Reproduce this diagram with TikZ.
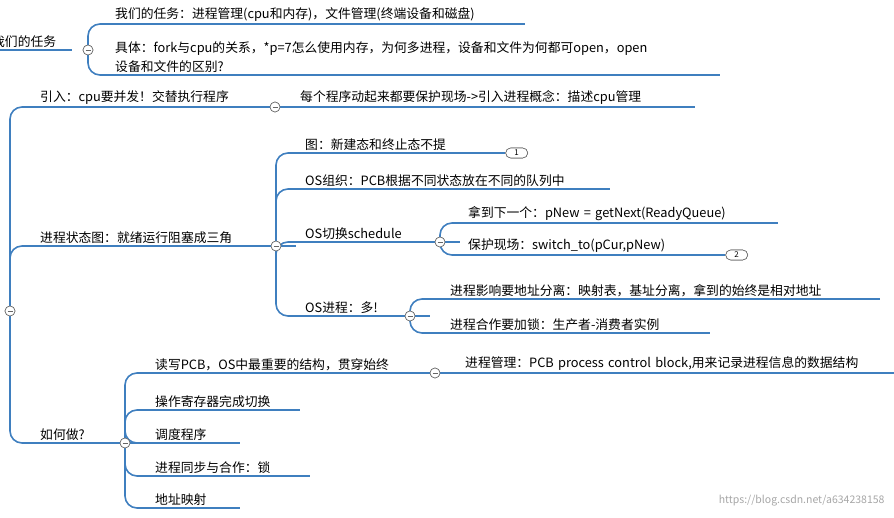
\documentclass[tikz,border=0pt]{standalone}
\usepackage{fontspec}
\setmainfont{Noto Sans CJK SC}
\usetikzlibrary{positioning}
\definecolor{mmblue}{HTML}{3F7FBF}
\tikzset{
  item/.style={anchor=south west, inner xsep=10pt, inner ysep=2pt, align=left,
    font=\fontsize{12.8pt}{19pt}\selectfont},
  uline/.style={draw=mmblue, line width=1.6pt},
  branch/.style={draw=mmblue, line width=1.6pt, rounded corners=12pt},
  fold/.style={circle, draw=gray!80!black, fill=white, line width=0.6pt,
    minimum size=10pt, inner sep=0pt,
    path picture={\draw[line width=0.6pt] ([xshift=-2.5pt]path picture bounding box.center) -- ([xshift=2.5pt]path picture bounding box.center);}},
  badge/.style={draw=gray!80!black, fill=white, rounded corners=5pt, line width=0.6pt,
    minimum width=22pt, minimum height=10pt, inner sep=0pt, font=\fontsize{8pt}{8pt}\selectfont}
}
\begin{document}
\begin{tikzpicture}[x=1pt,y=-1pt]
    \useasboundingbox (0,0) rectangle (894,518);
    % top (cut off)
    \node [item, text width=80pt, inner xsep=0pt] (task) at (-8,50) {我们的任务};%
    \node [fold] (ctask) at (88,50) {};%
    \node [item, text width=400pt] (task1) at (105,24)
    {我们的任务：进程管理(cpu和内存)，文件管理(终端设备和磁盘)};%
    \node [item, text width=595pt] (task2) at (105,75)
    {具体：fork与cpu的关系，*p=7怎么使用内存，为何多进程，设备和文件为何都可open，open\\设备和文件的区别?};%

    % root
    \node [fold] (root) at (10,311) {};%
    \node [item, text width=245pt] (intro) at (30,107) {引入：cpu要并发！交替执行程序};%
    \node [fold] (cintro) at (275,107) {};%
    \node [item, text width=385pt] (intro1) at (290,107)
    {每个程序动起来都要保护现场->引入进程概念：描述cpu管理};%

    % state diagram
    \node [item, text width=246pt] (state) at (30,246) {进程状态图：就绪运行阻塞成三角};%
    \node [fold] (cstate) at (276,246) {};%
    \node [item, text width=190pt] (st1) at (295,153) {图：新建态和终止态不提};%
    \node [badge, right=0pt of st1.south east] (b1) {1};%
    \node [item, text width=295pt] (st2) at (295,189) {OS组织：PCB根据不同状态放在不同的队列中};%
    \node [item, text width=145pt] (st3) at (295,242) {OS切换schedule};%
    \node [fold] (cst3) at (440,242) {};%
    \node [item, text width=300pt] (sw1) at (458,223) {拿到下一个：pNew = getNext(ReadyQueue)};%
    \node [item, text width=247pt] (sw2) at (458,255) {保护现场：switch\_to(pCur,pNew)};%
    \node [badge, right=0pt of sw2.south east] (b2) {2};%
    \node [item, text width=115pt] (st4) at (295,316) {OS进程：多!};%
    \node [fold] (cst4) at (410,316) {};%
    \node [item, text width=420pt] (pr1) at (440,299)
    {进程影响要地址分离：映射表，基址分离，拿到的始终是相对地址};%
    \node [item, text width=250pt] (pr2) at (440,333) {进程合作要加锁：生产者-消费者实例};%

    % how
    \node [item, text width=95pt] (how) at (30,443) {如何做?};%
    \node [fold] (chow) at (125,443) {};%
    \node [item, text width=290pt] (h1) at (145,373) {读写PCB，OS中最重要的结构，贯穿始终};%
    \node [fold] (ch1) at (435,373) {};%
    \node [item, text width=437pt] (h11) at (455,373)
    {进程管理：PCB process control block,用来记录进程信息的数据结构};%
    \node [item, text width=135pt] (h2) at (145,410) {操作寄存器完成切换};%
    \node [item, text width=75pt] (h3) at (145,443) {调度程序};%
    \node [item, text width=145pt] (h4) at (145,476) {进程同步与合作：锁};%
    \node [item, text width=75pt] (h5) at (145,508) {地址映射};%

    % underlines
    \foreach \n in {task,task1,task2,intro,intro1,state,st1,st2,st3,sw1,sw2,st4,pr1,pr2,how,h1,h11,h2,h3,h4,h5}
      \draw [uline] (\n.south west) -- (\n.south east);

    % branches
    \foreach \n in {task1,task2} \draw [branch] (ctask.center) |- (\n.south west);
    \foreach \n in {intro,state,how} \draw [branch] (root.center) |- (\n.south west);
    \draw [branch] (cintro.center) -- (intro1.south west);
    \foreach \n in {st1,st2,st3,st4} \draw [branch] (cstate.center) |- (\n.south west);
    \foreach \n in {sw1,sw2} \draw [branch] (cst3.center) |- (\n.south west);
    \foreach \n in {pr1,pr2} \draw [branch] (cst4.center) |- (\n.south west);
    \foreach \n in {h1,h2,h3,h4,h5} \draw [branch] (chow.center) |- (\n.south west);
    \draw [branch] (ch1.center) -- (h11.south west);

    % fold markers on top
    \foreach \c in {ctask,root,cintro,cstate,cst3,cst4,chow,ch1}
      \node [fold] at (\c) {};
    \node [badge] at (b1) {1};%
    \node [badge] at (b2) {2};%

    \node [anchor=south east, text=gray!70, font=\fontsize{10.5pt}{10pt}\selectfont] (wm)
    at (888,510) {https://blog.csdn.net/a634238158};%
\end{tikzpicture}
\end{document}
